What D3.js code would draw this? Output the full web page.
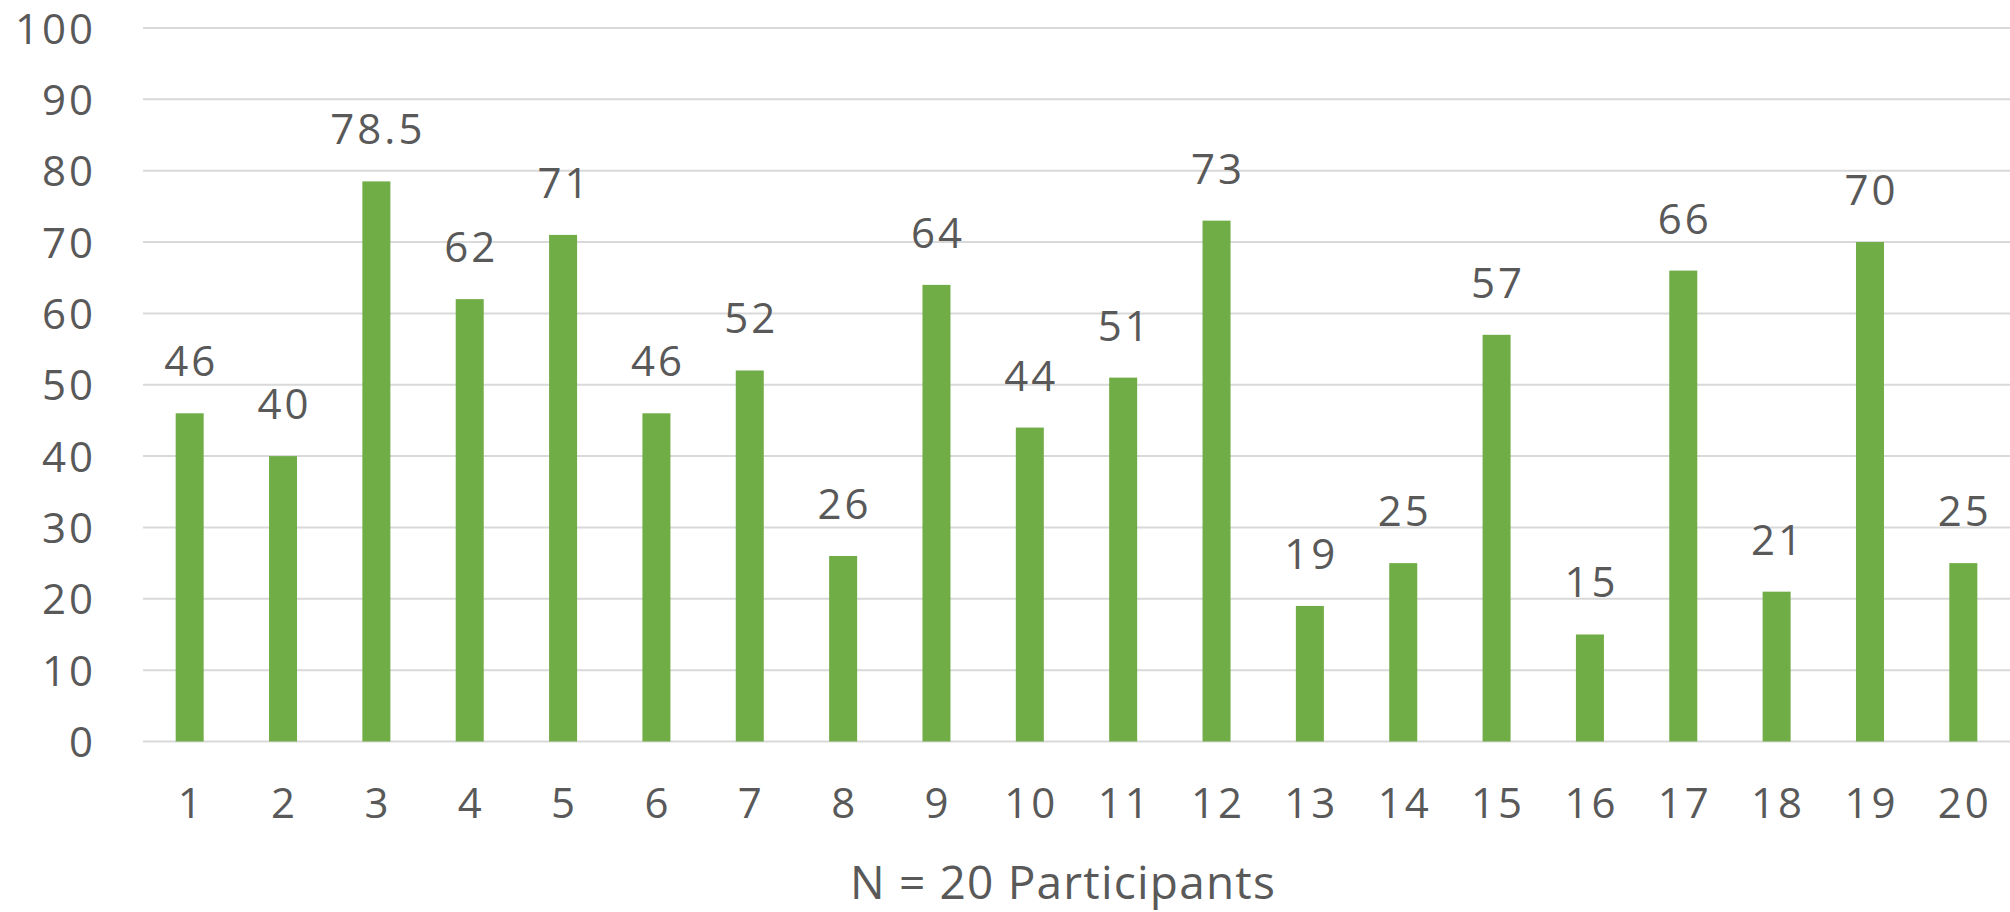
<!DOCTYPE html>
<html>
<head>
<meta charset="utf-8">
<script src="https://cdn.jsdelivr.net/npm/d3@7"></script>
<style>
  html, body { margin: 0; padding: 0; background: #fff; }
  svg { display: block; }
  text { font-family: "Open Sans", "Noto Sans", sans-serif; fill: #595959; }
</style>
</head>
<body>
<svg id="chart" width="2010" height="912"></svg>
<script>
// Participant numbers and their scores
const participants = ["1","2","3","4","5","6","7","8","9","10","11","12","13","14","15","16","17","18","19","20"];
const scores = [46, 40, 78.5, 62, 71, 46, 52, 26, 64, 44, 51, 73, 19, 25, 57, 15, 66, 21, 70, 25];
const yTicks = [0, 10, 20, 30, 40, 50, 60, 70, 80, 90, 100];
const xTitle = "N = 20 Participants";

const svg = d3.select("#chart");
const plotLeft = 143, plotRight = 2010, plotTop = 28, plotBottom = 741.5;
const numSize = 42, numSpacing = 3;

const x = d3.scaleBand().domain(participants).range([plotLeft, plotRight]).paddingInner(0.7).paddingOuter(0.35);
const y = d3.scaleLinear().domain([0, 100]).range([plotBottom, plotTop]);

// horizontal gridlines
svg.append("g").selectAll("line").data(yTicks).join("line")
  .attr("x1", plotLeft).attr("x2", plotRight)
  .attr("y1", d => y(d)).attr("y2", d => y(d))
  .attr("stroke", "#d9d9d9").attr("stroke-width", 2);

// y axis labels
const yAxis = svg.append("g").attr("transform", `translate(${plotLeft - 47},0)`)
  .call(d3.axisLeft(y).tickValues(yTicks).tickSize(0).tickPadding(0));
yAxis.select(".domain").remove();
yAxis.selectAll("text").attr("font-size", numSize).attr("dy", "0.36em")
  .attr("letter-spacing", numSpacing)
  .style("font-family", "'Open Sans', sans-serif").attr("fill", "#595959");

// bars
svg.append("g").selectAll("rect").data(participants).join("rect")
  .attr("x", d => x(d)).attr("width", x.bandwidth())
  .attr("y", (d, i) => y(scores[i])).attr("height", (d, i) => plotBottom - y(scores[i]))
  .attr("fill", "#70ad47");

// value labels
svg.append("g").selectAll("text").data(participants).join("text")
  .attr("x", d => x(d) + x.bandwidth() / 2 + numSpacing / 2)
  .attr("y", (d, i) => y(scores[i]) - 37)
  .attr("text-anchor", "middle").attr("font-size", numSize)
  .attr("letter-spacing", numSpacing)
  .text((d, i) => scores[i]);

// x axis labels
const xAxis = svg.append("g").attr("transform", `translate(${numSpacing / 2},${plotBottom})`)
  .call(d3.axisBottom(x).tickSize(0).tickPadding(0));
xAxis.select(".domain").remove();
xAxis.selectAll("text").attr("font-size", numSize).attr("dy", null).attr("y", 76)
  .attr("letter-spacing", numSpacing)
  .style("font-family", "'Open Sans', sans-serif").attr("fill", "#595959");

// axis title
svg.append("text")
  .attr("x", 1063).attr("y", 899)
  .attr("text-anchor", "middle").attr("font-size", 46)
  .attr("letter-spacing", 1.2)
  .text(xTitle);
</script>
</body>
</html>
